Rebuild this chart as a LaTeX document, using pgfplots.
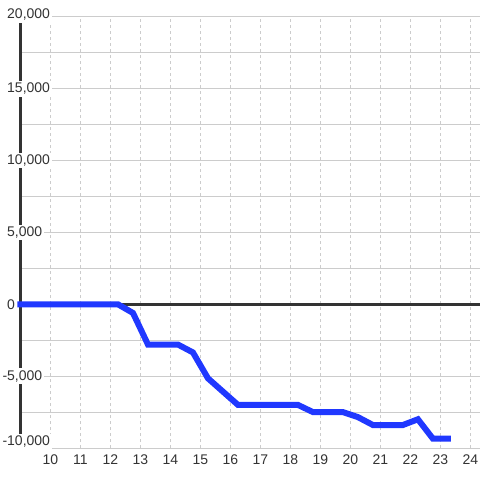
\documentclass[border=0pt]{standalone}
\usepackage{pgfplots}
\pgfplotsset{compat=1.18}
\usepackage{fontspec}
\setmainfont{Liberation Sans}
\definecolor{txt}{HTML}{333333}
\definecolor{gridc}{HTML}{CCCCCC}
\definecolor{lineblue}{RGB}{32,56,255}
\begin{document}
\begin{tikzpicture}
\begin{axis}[
  scale only axis,
  width=459.5bp, height=431bp,
  xmin=9, xmax=24.32,
  ymin=-10000, ymax=20000,
  axis line style={draw=none},
  xtick={10,...,24},
  xticklabels={10,11,12,13,14,15,16,17,18,19,20,21,22,23,24},
  ytick={-10000,-5000,0,5000,10000,15000,20000},
  minor ytick={-7500,-2500,2500,7500,12500,17500},
  yticklabels=\empty,
  scaled y ticks=false,
  scaled x ticks=false,
  major tick length=0pt, minor tick length=0pt,
  tick style={draw=none},
  xmajorgrids, ymajorgrids, yminorgrids,
  major x grid style={draw=gridc, line width=1bp, dash pattern=on 3bp off 3bp},
  major y grid style={draw=gridc, line width=1bp},
  minor y grid style={draw=gridc, line width=1bp},
  xticklabel style={font=\fontsize{14bp}{16bp}\selectfont, text=txt, inner sep=0pt, anchor=north, yshift=-7bp},
  clip=false,
]
\draw[txt, line width=3bp] (axis cs:9,-10000) -- (axis cs:9,20000);
\draw[txt, line width=3bp] (axis cs:9,0) -- (axis cs:24.32,0);
\addplot[lineblue, line width=6bp, line cap=rect, line join=miter, mark=none] coordinates {
(9,0) (12.25,0) (12.75,-600) (13.25,-2800) (14.25,-2800) (14.75,-3350)
(15.25,-5150) (16.25,-7000) (18.25,-7000) (18.75,-7500) (19.75,-7500)
(20.25,-7850) (20.75,-8400) (21.75,-8400) (22.25,-8000) (22.75,-9350) (23.25,-9350)
};
\tikzset{ylab/.style={anchor=west, fill=white, inner xsep=2bp, inner ysep=2bp, text=txt, font=\fontsize{14bp}{16bp}\selectfont, xshift=-15.5bp}}
\node[ylab, yshift=2bp] at (axis cs:9,20000) {20,000};
\node[ylab] at (axis cs:9,15000) {15,000};
\node[ylab] at (axis cs:9,10000) {10,000};
\node[ylab] at (axis cs:9,5000) {5,000};
\node[ylab] at (axis cs:9,0) {0};
\node[ylab] at (axis cs:9,-5000) {\llap{-}5,000};
\node[ylab, yshift=6bp] at (axis cs:9,-10000) {\llap{-}10,000};
\end{axis}
\pgfresetboundingbox
\useasboundingbox (-20.5bp,-32bp) rectangle (459.5bp,448bp);
\end{tikzpicture}
\end{document}
